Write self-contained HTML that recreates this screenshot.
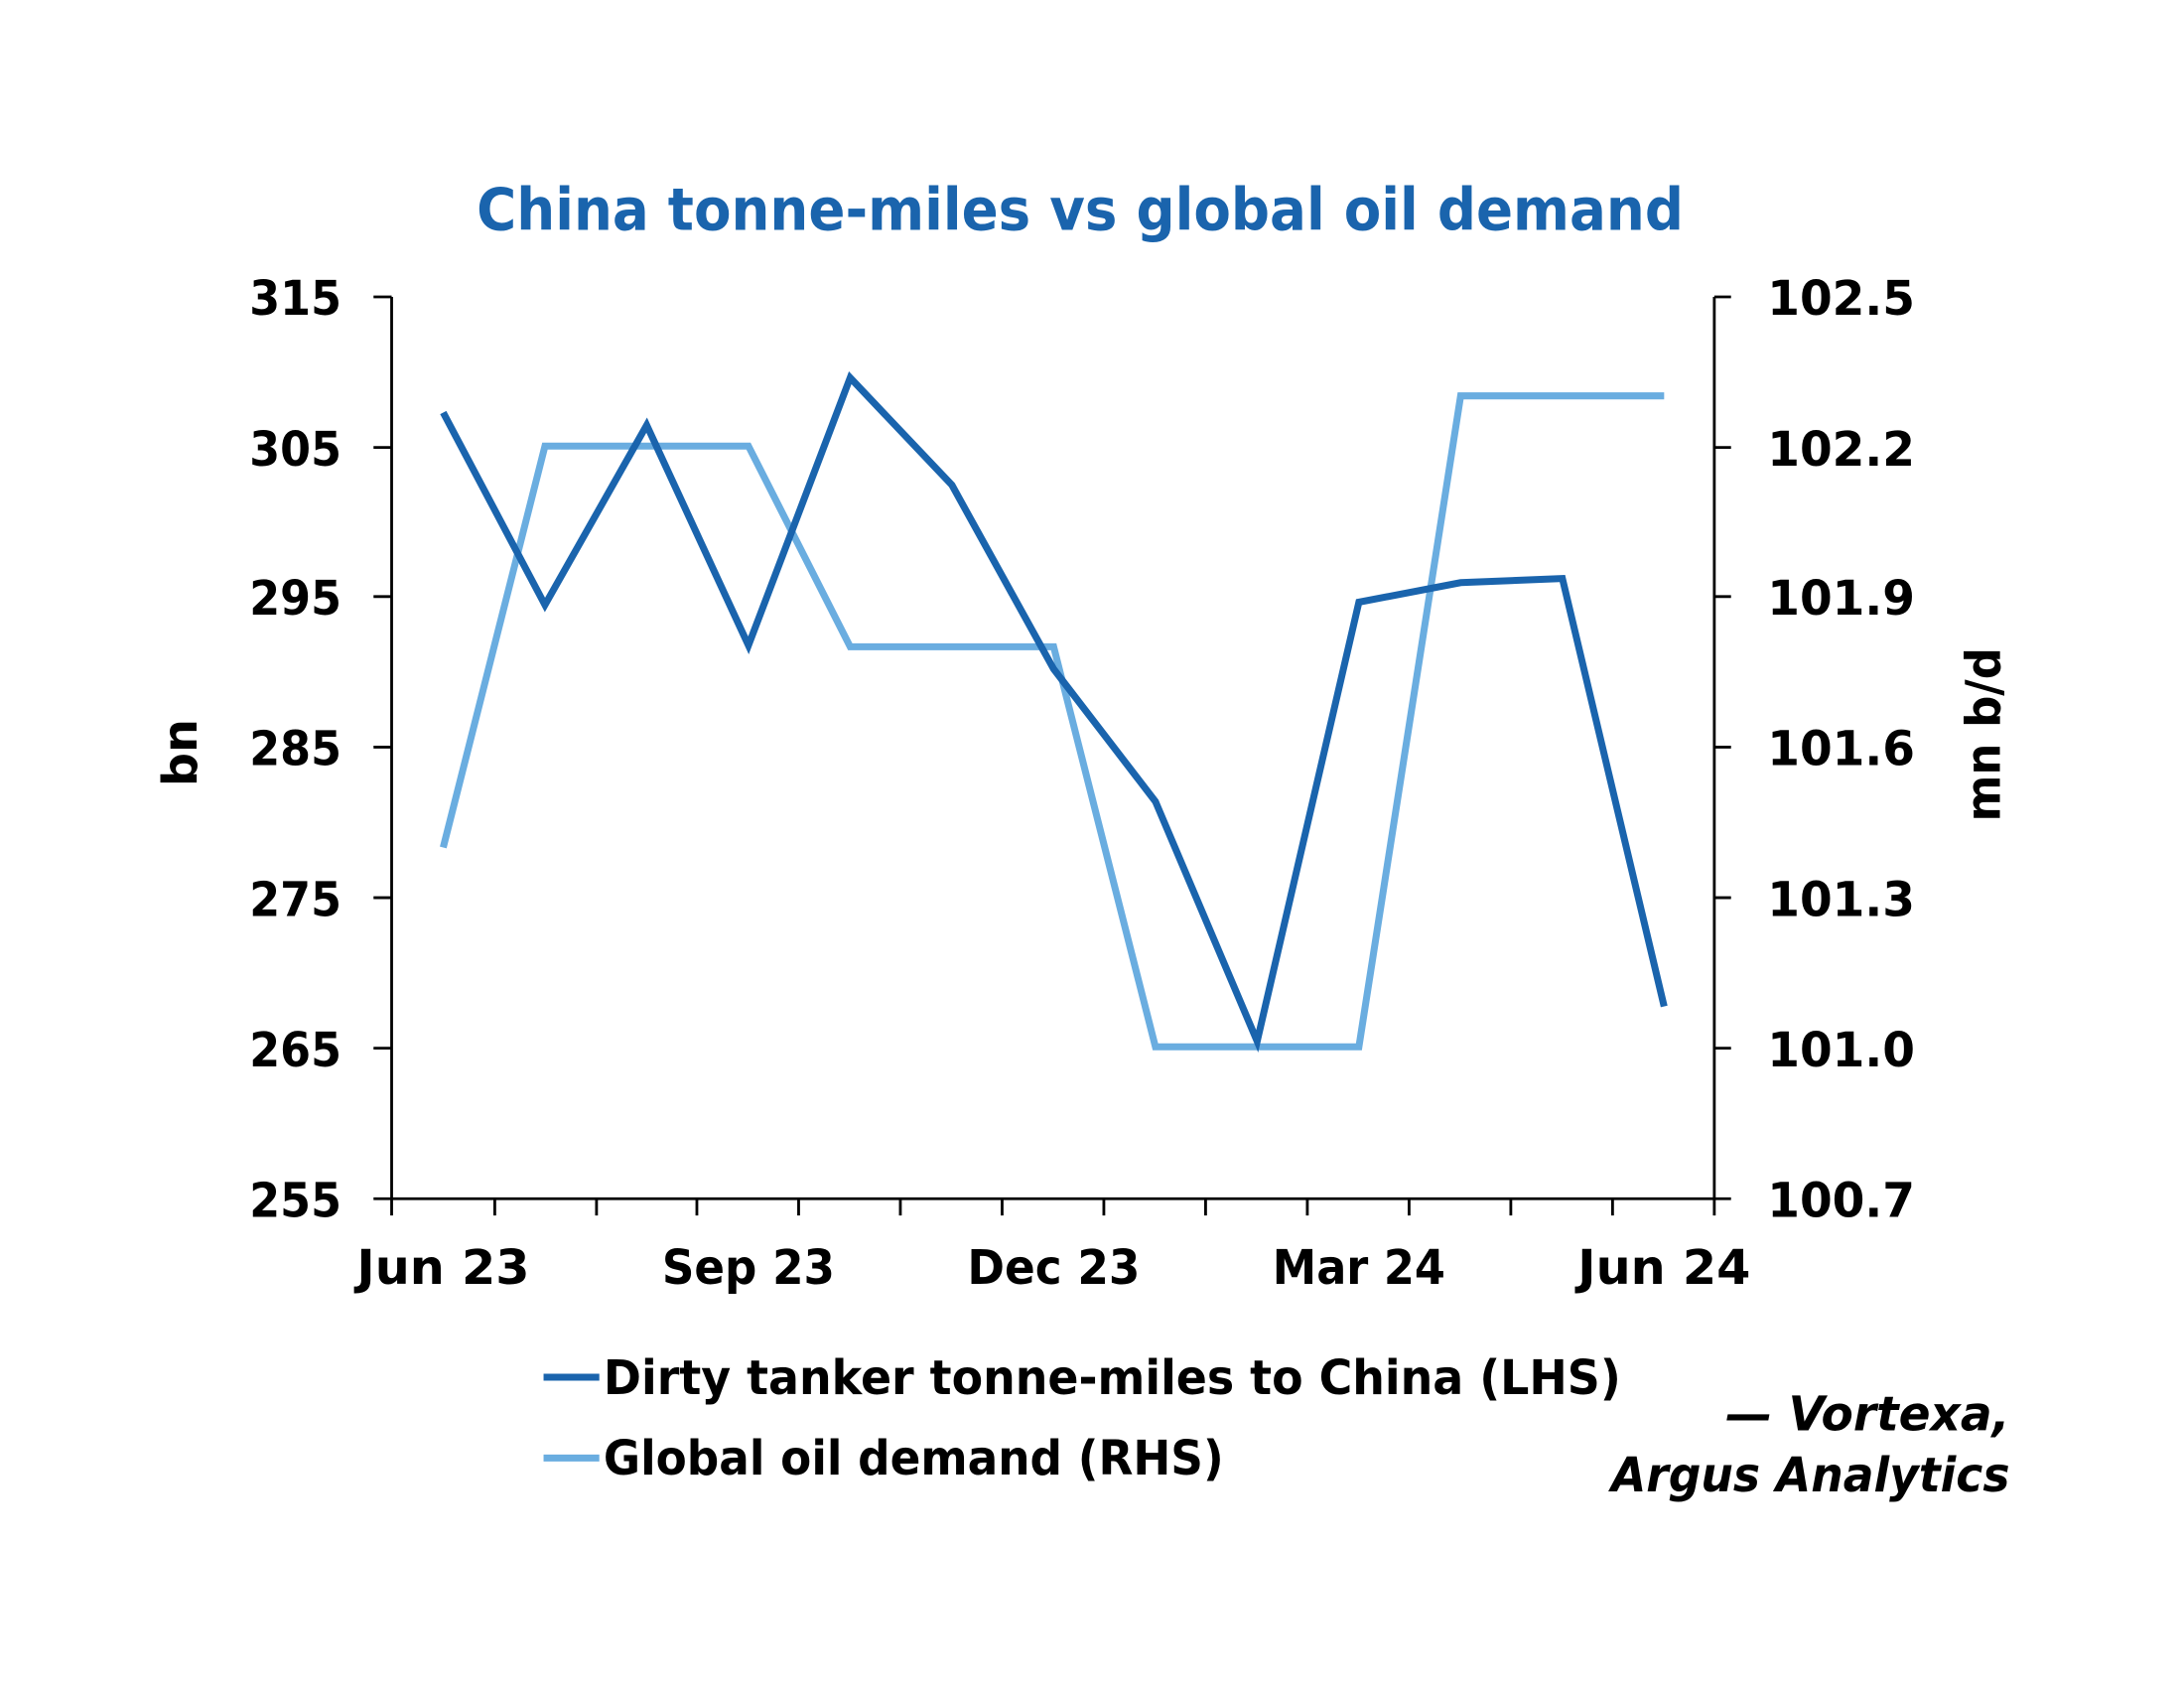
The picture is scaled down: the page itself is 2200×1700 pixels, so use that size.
<!DOCTYPE html>
<html><head><meta charset="utf-8"><style>
html,body{margin:0;padding:0;background:#fff;}
svg{display:block;}
text{font-family:"DejaVu Sans","Liberation Sans",sans-serif;}
</style></head><body>
<svg width="2200" height="1700" viewBox="0 0 1567 1211" preserveAspectRatio="none" xmlns="http://www.w3.org/2000/svg">
<rect width="1567" height="1211" fill="#fff"/>
<text x="775" y="165" text-anchor="middle" font-size="42" fill="#1a64ad" font-weight="bold" textLength="866" lengthAdjust="spacingAndGlyphs">China tonne-miles vs global oil demand</text>
<g stroke="#000" stroke-width="2" fill="none">
<line x1="281" y1="213" x2="281" y2="860"/>
<line x1="1230" y1="213" x2="1230" y2="860"/>
<line x1="268" y1="860" x2="1242" y2="860"/>
<path d="M268 213H281M268 321H281M268 428H281M268 536H281M268 644H281M268 752H281"/>
<path d="M1230 213H1242M1230 321H1242M1230 428H1242M1230 536H1242M1230 644H1242M1230 752H1242"/>
<path d="M281 860V872M355 860V872M428 860V872M500 860V872M573 860V872M646 860V872M719 860V872M792 860V872M865 860V872M938 860V872M1011 860V872M1084 860V872M1157 860V872M1230 860V872"/>
</g>
<g font-size="34" font-weight="bold" fill="#000" text-anchor="end">
<text x="245" y="226" textLength="66" lengthAdjust="spacingAndGlyphs">315</text><text x="245" y="334" textLength="66" lengthAdjust="spacingAndGlyphs">305</text><text x="245" y="441" textLength="66" lengthAdjust="spacingAndGlyphs">295</text>
<text x="245" y="549" textLength="66" lengthAdjust="spacingAndGlyphs">285</text><text x="245" y="657" textLength="66" lengthAdjust="spacingAndGlyphs">275</text><text x="245" y="765" textLength="66" lengthAdjust="spacingAndGlyphs">265</text><text x="245" y="873" textLength="66" lengthAdjust="spacingAndGlyphs">255</text>
</g>
<g font-size="34" font-weight="bold" fill="#000" text-anchor="start">
<text x="1268" y="226" textLength="106" lengthAdjust="spacingAndGlyphs">102.5</text><text x="1268" y="334" textLength="106" lengthAdjust="spacingAndGlyphs">102.2</text><text x="1268" y="441" textLength="106" lengthAdjust="spacingAndGlyphs">101.9</text>
<text x="1268" y="549" textLength="106" lengthAdjust="spacingAndGlyphs">101.6</text><text x="1268" y="657" textLength="106" lengthAdjust="spacingAndGlyphs">101.3</text><text x="1268" y="765" textLength="106" lengthAdjust="spacingAndGlyphs">101.0</text><text x="1268" y="873" textLength="106" lengthAdjust="spacingAndGlyphs">100.7</text>
</g>
<g font-size="34" font-weight="bold" fill="#000" text-anchor="middle">
<text x="318" y="921" textLength="124" lengthAdjust="spacingAndGlyphs">Jun 23</text><text x="537" y="921" textLength="124" lengthAdjust="spacingAndGlyphs">Sep 23</text><text x="756" y="921" textLength="124" lengthAdjust="spacingAndGlyphs">Dec 23</text>
<text x="975" y="921" textLength="124" lengthAdjust="spacingAndGlyphs">Mar 24</text><text x="1194" y="921" textLength="124" lengthAdjust="spacingAndGlyphs">Jun 24</text>
</g>
<text transform="translate(141,540) rotate(-90)" font-size="34" font-weight="bold" text-anchor="middle">bn</text>
<text transform="translate(1435,527) rotate(-90)" font-size="34" font-weight="bold" text-anchor="middle" textLength="125" lengthAdjust="spacingAndGlyphs">mn b/d</text>
<polyline fill="none" stroke="#6aade0" stroke-width="5" stroke-linejoin="miter" points="318,608 391,320 464,320 537,320 610,464 683,464 756,464 829,751 902,751 975,751 1048,284 1121,284 1194,284"/>
<polyline fill="none" stroke="#1a64ad" stroke-width="5" stroke-linejoin="miter" points="318,296 391,434 464,305 537,463 610,271 683,348 756,480 829,575 902,747 975,432 1048,418 1121,415 1194,722"/>
<line x1="390" y1="988" x2="430" y2="988" stroke="#1a64ad" stroke-width="5"/>
<line x1="390" y1="1046" x2="430" y2="1046" stroke="#6aade0" stroke-width="5"/>
<text x="433" y="1000" font-size="34" font-weight="bold" textLength="730" lengthAdjust="spacingAndGlyphs">Dirty tanker tonne-miles to China (LHS)</text>
<text x="433" y="1058" font-size="34" font-weight="bold" textLength="445" lengthAdjust="spacingAndGlyphs">Global oil demand (RHS)</text>
<text x="1442" y="1026" font-size="34" font-weight="bold" font-style="italic" text-anchor="end" textLength="204" lengthAdjust="spacingAndGlyphs">— Vortexa,</text>
<text x="1442" y="1070" font-size="34" font-weight="bold" font-style="italic" text-anchor="end" textLength="286" lengthAdjust="spacingAndGlyphs">Argus Analytics</text>
</svg>
</body></html>
